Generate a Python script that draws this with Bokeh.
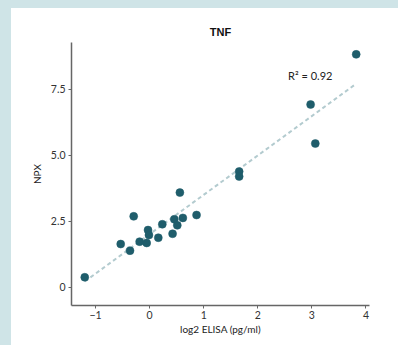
import numpy as np
from bokeh.plotting import figure
from bokeh.models import Range1d, FixedTicker, Label, Spacer
from bokeh.layouts import column, row
from bokeh.embed import file_html
from bokeh.resources import INLINE

# Data
elisa_log2 = [-1.20, -0.535, -0.363, -0.295, -0.185, -0.055, -0.03, -0.013, 0.16, 0.234,
              0.424, 0.456, 0.511, 0.559, 0.614, 0.867, 1.655, 1.655, 2.976, 3.063, 3.819]
npx = [0.38, 1.64, 1.39, 2.69, 1.73, 1.68, 2.17, 1.98, 1.88, 2.39,
       2.03, 2.58, 2.35, 3.59, 2.63, 2.74, 4.39, 4.20, 6.93, 5.45, 8.83]
x_ticks = [-1, 0, 1, 2, 3, 4]
y_ticks = [0, 2.5, 5, 7.5]
y_tick_labels = ["0", "2.5", "5.0", "7.5"]
title_text = "TNF"
r2_text = "R\u00b2 = 0.92"

BG = "#cfe4e7"
PT = "#1f5d6b"
FONT = "Lato"

slope, intercept = np.polyfit(elisa_log2, npx, 1)
fx = [min(elisa_log2), max(elisa_log2)]
fy = [slope * v + intercept for v in fx]

p = figure(width=387, height=337, output_backend="svg", toolbar_location=None,
           x_range=Range1d(-1.445, 4.065), y_range=Range1d(-0.69, 9.28),
           min_border_left=60, min_border_right=29, min_border_top=34, min_border_bottom=40)
p.title.text = title_text
p.title.align = "center"
p.title.text_font = "Liberation Sans"
p.title.text_font_size = "11px"
p.title.text_font_style = "bold"
p.title.text_color = "#111111"

p.outline_line_color = None
p.background_fill_color = "white"
p.border_fill_color = "white"
p.xgrid.visible = False
p.ygrid.visible = False

p.line(fx, fy, line_color="#b3cbcf", line_width=2, line_dash="4 3")
p.scatter(elisa_log2, npx, size=8, fill_color=PT, line_color=PT, line_width=0.5)

p.add_layout(Label(x=2.56, y=8.02, text=r2_text, text_font=FONT, text_font_size="11px",
                   text_color="#222222", text_baseline="middle", text_align="left"))

for ax in (p.xaxis[0], p.yaxis[0]):
    ax.axis_line_color = "#666666"
    ax.axis_line_width = 1.5
    ax.major_tick_line_color = "#666666"
    ax.major_tick_in = 0
    ax.major_tick_out = 3
    ax.minor_tick_line_color = None
    ax.major_label_text_font = FONT
    ax.major_label_text_font_size = "10.5px"
    ax.major_label_text_color = "#333333"
    ax.axis_label_text_font = FONT
    ax.axis_label_text_font_size = "10px"
    ax.axis_label_text_font_style = "normal"
    ax.axis_label_text_color = "#222222"

p.xaxis.ticker = FixedTicker(ticks=x_ticks)
p.yaxis.ticker = FixedTicker(ticks=y_ticks)
p.yaxis.major_label_overrides = {t: l for t, l in zip(y_ticks, y_tick_labels)}
p.xaxis.axis_label = "log2 ELISA (pg/ml)"
p.yaxis.axis_label = "NPX"
p.xaxis.major_label_standoff = 2
p.xaxis.axis_label_standoff = 1
p.yaxis.major_label_standoff = 3
p.yaxis.axis_label_standoff = 5

bg = {"background-color": BG}
layout = column(Spacer(width=398, height=8, styles=bg),
                row(Spacer(width=11, height=337, styles=bg), p))

open("out.html", "w").write(file_html(layout, INLINE))
